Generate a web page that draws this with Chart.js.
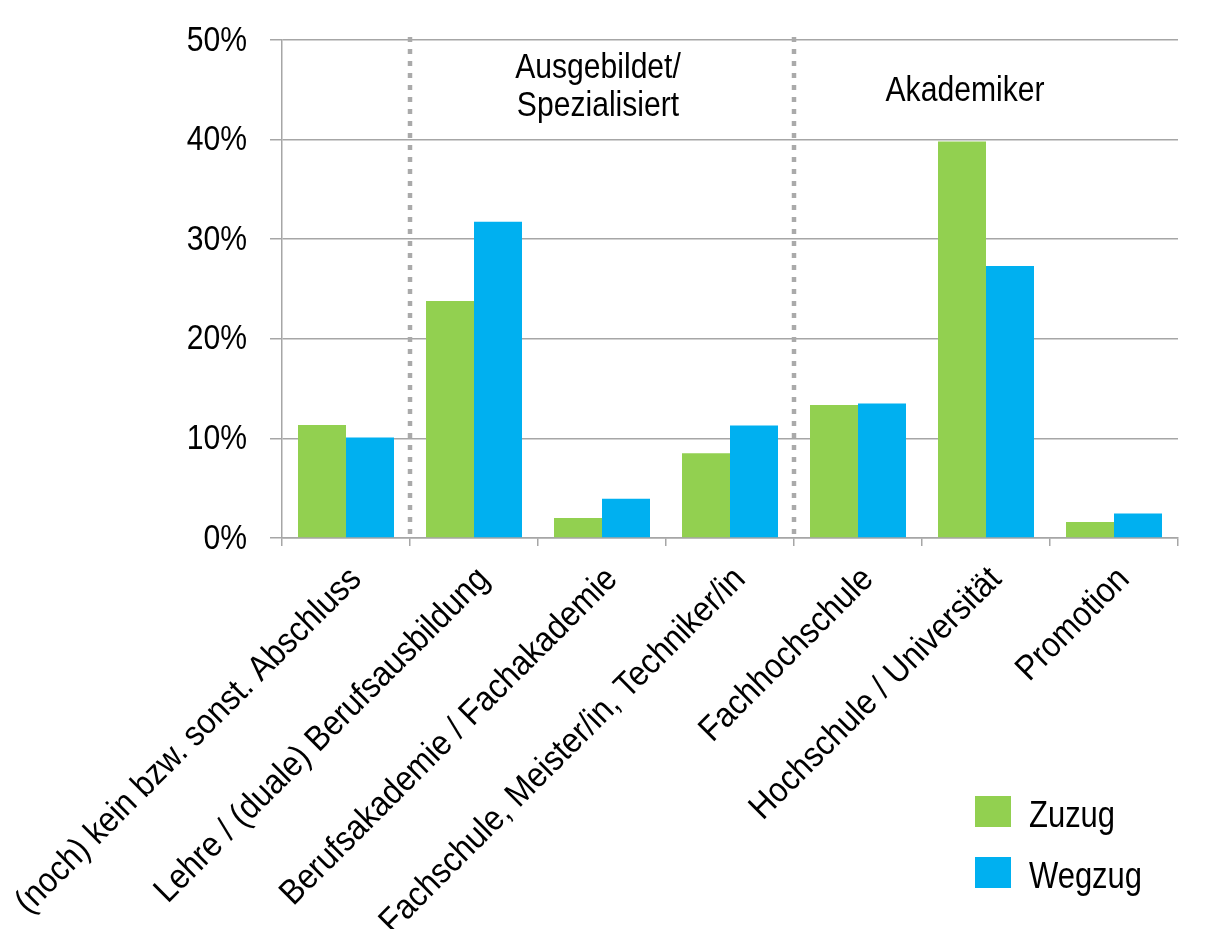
<!DOCTYPE html>
<html>
<head>
<meta charset="utf-8">
<script src="https://cdn.jsdelivr.net/npm/chart.js@4.4.1/dist/chart.umd.min.js"></script>
<style>
  html, body { margin: 0; padding: 0; background: #fff; }
  #wrap { width: 1209px; height: 929px; position: relative; }
</style>
</head>
<body>
<div id="wrap"><canvas id="chart" width="1209" height="929"></canvas></div>
<script>
// Chart data
const categories = [
  '(noch) kein bzw. sonst. Abschluss',
  'Lehre / (duale) Berufsausbildung',
  'Berufsakademie / Fachakademie',
  'Fachschule, Meister/in, Techniker/in',
  'Fachhochschule',
  'Hochschule / Universität',
  'Promotion'
];
const zuzug = [11.35, 23.8, 2.0, 8.5, 13.35, 39.8, 1.6];
const wegzug = [10.1, 31.75, 3.95, 11.3, 13.5, 27.3, 2.45];
const yTicks = [0, 10, 20, 30, 40, 50];
const seriesNames = ['Zuzug', 'Wegzug'];

// no narrow font installed, so text is squeezed by hand
const FONT = "'Liberation Sans', Arial, sans-serif";
const GREEN = '#92d050';
const BLUE = '#00b0f0';
const GRID = '#a6a6a6';

function narrowText(ctx, text, x, y, align, size, rot, squeeze) {
  ctx.save();
  ctx.translate(x, y);
  if (rot) ctx.rotate(rot);
  ctx.scale(squeeze || 0.86, 1);
  ctx.font = size + 'px ' + FONT;
  ctx.textAlign = align;
  ctx.fillText(text, 0, 0);
  ctx.restore();
}

// axis labels, drawn from the scales
const labelPlugin = {
  id: 'axisLabels',
  afterDraw(chart) {
    const ctx = chart.ctx;
    const x = chart.scales.x;
    const y = chart.scales.y;
    ctx.save();
    ctx.fillStyle = '#000';
    ctx.textBaseline = 'middle';
    yTicks.forEach(v => {
      narrowText(ctx, v + '%', x.left - 35, y.getPixelForValue(v) + 1, 'right', 35);
    });
    chart.data.labels.forEach((lab, i) => {
      const px = x.getPixelForValue(i);
      narrowText(ctx, lab, px + 10, x.top + 36, 'right', 35, -Math.PI / 4, 0.9);
    });
    ctx.restore();
  }
};

// Dotted separators + group titles
const groupPlugin = {
  id: 'groups',
  afterDatasetsDraw(chart) {
    const ctx = chart.ctx;
    const x = chart.scales.x;
    const area = chart.chartArea;
    const sep1 = (x.getPixelForValue(0) + x.getPixelForValue(1)) / 2;
    const sep2 = (x.getPixelForValue(3) + x.getPixelForValue(4)) / 2;
    ctx.save();
    ctx.strokeStyle = '#aaaaaa';
    ctx.lineWidth = 4.5;
    ctx.setLineDash([5, 7]);
    [sep1, sep2].forEach(px => {
      ctx.beginPath();
      ctx.moveTo(px, area.top - 3);
      ctx.lineTo(px, area.bottom);
      ctx.stroke();
    });
    ctx.setLineDash([]);
    ctx.fillStyle = '#000';
    ctx.textBaseline = 'alphabetic';
    const c1 = x.getPixelForValue(2) - 4;
    narrowText(ctx, 'Ausgebildet/', c1, 78, 'center', 35);
    narrowText(ctx, 'Spezialisiert', c1, 116, 'center', 35);
    const c2 = x.getPixelForValue(5) - 21;
    narrowText(ctx, 'Akademiker', c2, 101, 'center', 35);
    ctx.restore();
  }
};

// Legend in the lower right corner
const legendPlugin = {
  id: 'cornerLegend',
  afterDraw(chart) {
    const ctx = chart.ctx;
    ctx.save();
    ctx.textBaseline = 'alphabetic';
    chart.data.datasets.forEach((ds, i) => {
      const top = 796 + i * 61;
      ctx.fillStyle = ds.backgroundColor;
      ctx.fillRect(975, top, 36, 31);
      ctx.fillStyle = '#000';
      narrowText(ctx, ds.label, 1029, top + 31, 'left', 36);
    });
    ctx.restore();
  }
};

new Chart(document.getElementById('chart'), {
  type: 'bar',
  data: {
    labels: categories,
    datasets: [
      { label: seriesNames[0], data: zuzug, backgroundColor: GREEN },
      { label: seriesNames[1], data: wegzug, backgroundColor: BLUE }
    ]
  },
  options: {
    responsive: false,
    animation: false,
    events: [],
    datasets: { bar: { categoryPercentage: 0.75, barPercentage: 1.0 } },
    layout: { padding: { top: 40, right: 31, left: 0, bottom: 0 } },
    plugins: {
      legend: { display: false },
      tooltip: { enabled: false }
    },
    scales: {
      x: {
        grid: {
          offset: true,
          drawOnChartArea: false,
          drawTicks: true,
          tickLength: 8,
          color: GRID,
          lineWidth: 1.5
        },
        border: { display: true, color: GRID, width: 1.5 },
        ticks: { display: false, autoSkip: false },
        afterFit(scale) { scale.height = 929 - 538; }
      },
      y: {
        min: 0,
        max: 50,
        afterBuildTicks(scale) { scale.ticks = yTicks.map(v => ({ value: v })); },
        grid: {
          color: GRID,
          lineWidth: 1.5,
          tickLength: 12,
          drawTicks: true
        },
        border: { display: true, color: GRID, width: 1.5 },
        ticks: { display: false },
        afterFit(scale) { scale.width = 282; }
      }
    }
  },
  plugins: [groupPlugin, labelPlugin, legendPlugin]
});
</script>
</body>
</html>
